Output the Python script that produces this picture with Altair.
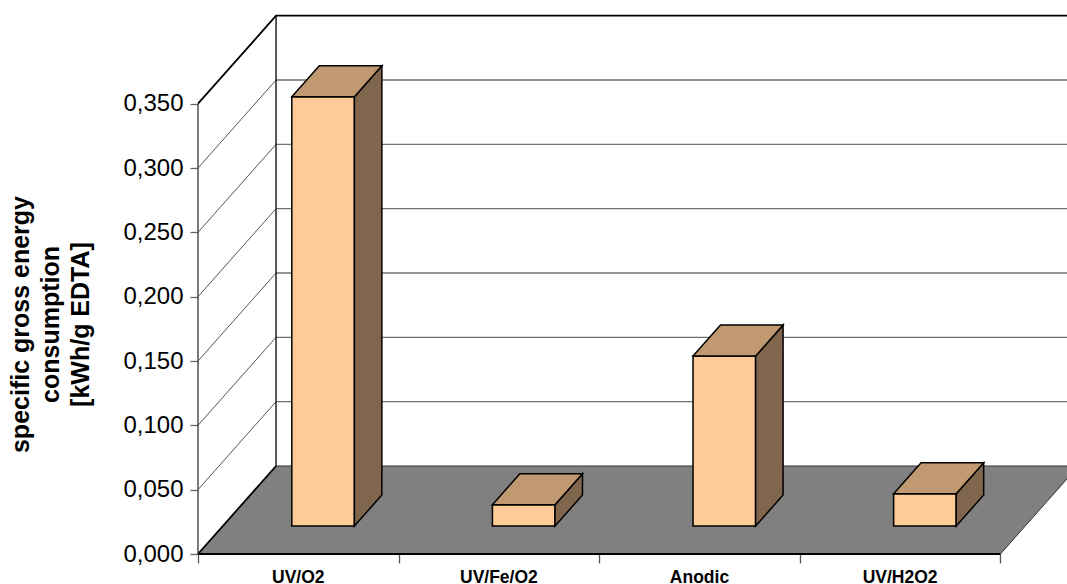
import altair as alt
import pandas as pd

# Measured series
categories = ["UV/O2", "UV/Fe/O2", "Anodic", "UV/H2O2"]
energy = [0.3337, 0.0166, 0.1321, 0.0251]
tick_levels = [0.0, 0.05, 0.10, 0.15, 0.20, 0.25, 0.30, 0.35]
title_lines = ["specific gross energy", "consumption", "[kWh/g EDTA]"]

# Oblique projection: full chart depth expressed in axis units
DEPTH_X = 0.389
DEPTH_Y = 0.0684
BAR_WIDTH = 0.312
BAR_DEPTH_START = 0.318
BAR_DEPTH_END = 0.670
X_MAX = 4.332
Y_MAX = 0.41893
N = len(categories)

FRONT, TOP, SIDE = "#FFCC99", "#C09970", "#80664D"
FLOOR = "#808080"
FONT = "Liberation Sans"

x_scale = alt.Scale(domain=[0, X_MAX], nice=False, zero=False)
y_scale = alt.Scale(domain=[0, Y_MAX], nice=False, zero=False)

label_expr = "replace(format(datum.value, '.3f'), '.', ',')"

x_axis = alt.Axis(
    values=list(range(N + 1)), labels=False, title=None, grid=False,
    domain=False, ticks=True, tickSize=9, tickColor="#555555", tickWidth=1.3,
)
y_axis = alt.Axis(
    values=tick_levels, labelExpr=label_expr, grid=False, domain=False,
    tickSize=8, tickColor="#666666", tickWidth=1.3,
    labelFont=FONT, labelFontSize=24, labelColor="#000000", labelPadding=7,
    title=title_lines, titleFont=FONT, titleFontSize=25, titleFontWeight="bold",
    titleColor="#000000", titleLineHeight=30, titleAngle=-90,
    titleAlign="center", titleBaseline="alphabetic", titleX=-170, titleY=309,
)


def project(c, v, d):
    return c + d * DEPTH_X, v + d * DEPTH_Y


# Box faces for each bar, as closed outlines
faces = []
for i, (cat, v) in enumerate(zip(categories, energy)):
    left = i + 0.5 - BAR_WIDTH / 2
    right = i + 0.5 + BAR_WIDTH / 2
    d0, d1 = BAR_DEPTH_START, BAR_DEPTH_END

    fl, fr = project(left, 0, d0), project(right, 0, d0)
    bl, br = project(left, 0, d1), project(right, 0, d1)

    def up(p):
        return (p[0], p[1] + v)

    outlines = {
        FRONT: [fl, fr, up(fr), up(fl)],
        SIDE: [fr, br, up(br), up(fr)],
        TOP: [up(fl), up(fr), up(br), up(bl)],
    }
    for fill, pts in outlines.items():
        for k, (x, y) in enumerate(pts):
            faces.append(dict(key=f"{cat}-{fill}", fill=fill, k=k, x=x, y=y))
faces_df = pd.DataFrame(faces)

# Floor parallelogram
floor_pts = [project(0, 0, 0), project(N, 0, 0), project(N, 0, 1), project(0, 0, 1)]
floor_df = pd.DataFrame([dict(k=k, x=x, y=y) for k, (x, y) in enumerate(floor_pts)])


def polyline_rows(key, pts):
    return [dict(key=key, k=k, x=x, y=y) for k, (x, y) in enumerate(pts)]


back_rows, side_rows = [], []
for lev in tick_levels[1:-1]:
    back_rows += polyline_rows(f"b{lev}", [project(0, lev, 1), project(N, lev, 1)])
    side_rows += polyline_rows(f"s{lev}", [project(0, lev, 0), project(0, lev, 1)])

top = tick_levels[-1]
frame_rows = polyline_rows("wall", [project(0, 0, 1), project(0, top, 1)])
heavy_rows = (
    polyline_rows("rim", [project(0, top, 0), project(0, top, 1), project(N, top, 1)])
    + polyline_rows("floor-left", [project(0, 0, 0), project(0, 0, 1)])
    + polyline_rows("floor-front", [project(0, 0, 0), project(N, 0, 0)])
)
axis_rows = polyline_rows("axis", [project(0, 0, 0), project(0, top, 0)])


def lines(rows, color, width):
    return (
        alt.Chart(pd.DataFrame(rows))
        .mark_line(color=color, strokeWidth=width)
        .encode(
            x=alt.X("x:Q", scale=x_scale, axis=x_axis),
            y=alt.Y("y:Q", scale=y_scale, axis=y_axis),
            detail="key:N",
            order="k:Q",
        )
    )


floor = (
    alt.Chart(floor_df)
    .mark_line(interpolate="linear-closed", fill=FLOOR, stroke="#333333", strokeWidth=1)
    .encode(
        x=alt.X("x:Q", scale=x_scale, axis=x_axis),
        y=alt.Y("y:Q", scale=y_scale, axis=y_axis),
        order="k:Q",
    )
)

# One closed outline per face; fills are applied face by face
box_layers = [
    alt.Chart(faces_df[faces_df["fill"] == fill])
    .mark_line(interpolate="linear-closed", fill=fill, stroke="#000000", strokeWidth=1.5)
    .encode(
        x=alt.X("x:Q", scale=x_scale, axis=x_axis),
        y=alt.Y("y:Q", scale=y_scale, axis=y_axis),
        detail="key:N",
        order="k:Q",
    )
    for fill in (FRONT, SIDE, TOP)
]

cat_labels = (
    alt.Chart(pd.DataFrame({"x": [i + 0.5 for i in range(N)], "y": [0] * N, "name": categories}))
    .mark_text(font=FONT, fontSize=17.5, fontWeight="bold", color="#000000",
               baseline="alphabetic", align="center", dy=28.5)
    .encode(
        x=alt.X("x:Q", scale=x_scale, axis=x_axis),
        y=alt.Y("y:Q", scale=y_scale, axis=y_axis),
        text="name:N",
    )
)

chart = (
    alt.layer(
        lines(back_rows, "#707070", 1.3),
        lines(side_rows, "#555555", 1),
        lines(frame_rows, "#111111", 1.4),
        floor,
        lines(heavy_rows, "#000000", 1.8),
        lines(axis_rows, "#444444", 1.4),
        *box_layers,
        cat_labels,
    )
    .properties(
        width=869,
        height=539,
        padding={"left": 198, "top": 15, "right": 0, "bottom": 30},
        autosize=alt.AutoSizeParams(type="none"),
        background="#FFFFFF",
    )
    .configure_view(stroke=None)
)

chart.save("out.html", embed_options={"renderer": "svg", "actions": False})
